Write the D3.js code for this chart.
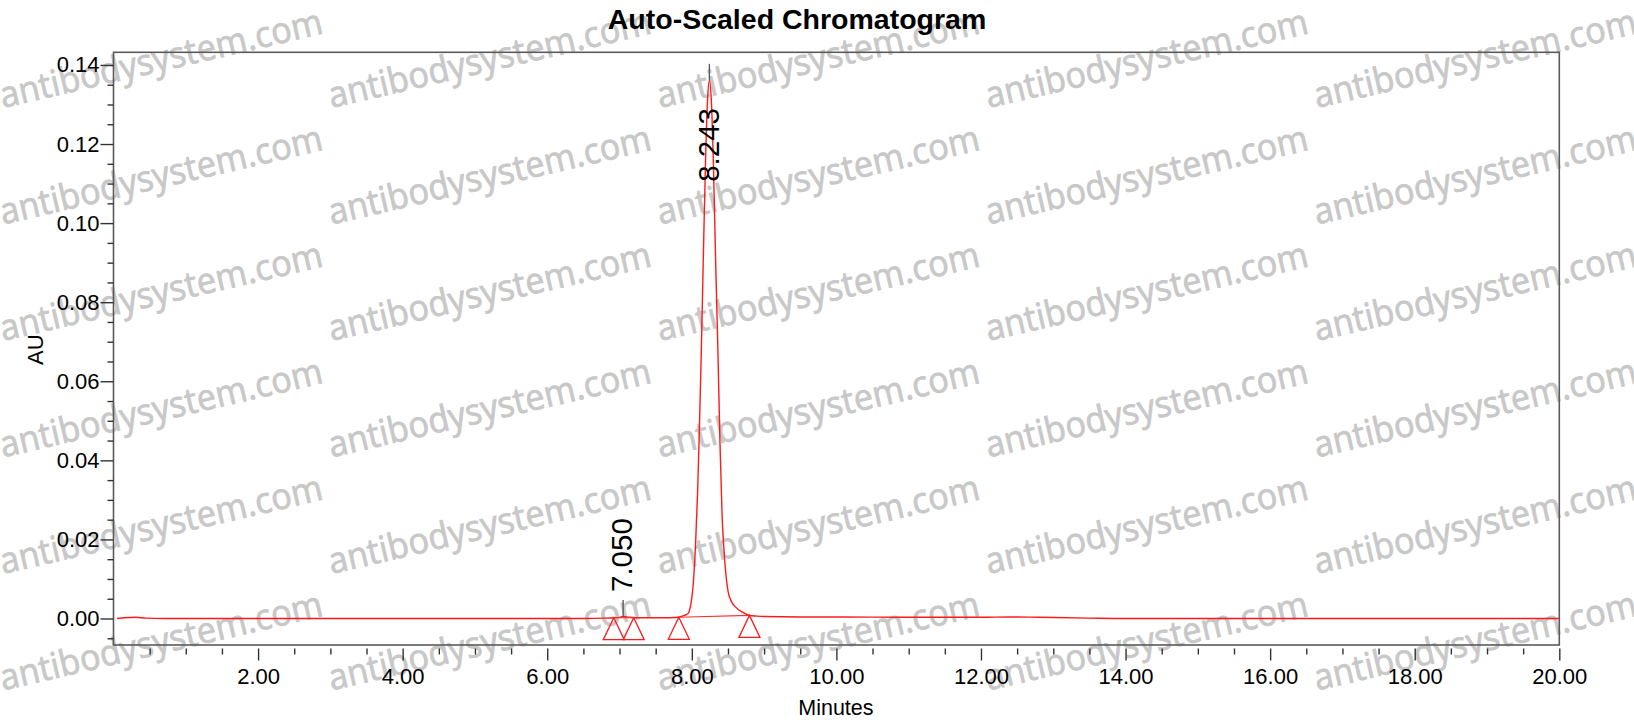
<!DOCTYPE html>
<html>
<head>
<meta charset="utf-8">
<script src="https://cdn.jsdelivr.net/npm/d3@7"></script>
<style>
  html, body { margin: 0; padding: 0; background: #fff; }
  svg { display: block; font-family: "Liberation Sans", Arial, sans-serif; }
</style>
</head>
<body>
<svg id="chart" width="1634" height="722"></svg>
<script>
// ---------- data ----------
const traceTime = [
  0.05, 0.15, 0.30, 0.45, 0.70, 1.00, 2.00, 3.00, 4.00, 5.00, 6.00, 6.50, 6.80, 6.92,
  7.00, 7.05, 7.10, 7.196, 7.30, 7.50, 7.70, 7.82, 7.85, 7.90, 7.95, 7.98,
  8.00, 8.02, 8.05, 8.08, 8.10, 8.13, 8.16, 8.19, 8.22, 8.243,
  8.27, 8.30, 8.33, 8.36, 8.39, 8.42, 8.45, 8.50, 8.55, 8.60, 8.70, 8.797,
  8.90, 9.00, 9.50, 10.00, 11.00, 12.00, 12.40, 12.80, 13.50, 14.00, 15.00,
  16.00, 17.00, 18.00, 19.00, 20.00
];
const traceAU = [
  0.0000, 0.0002, 0.0003, 0.0001, 0.0000, 0.0000, 0.0000, 0.0000, 0.0000, 0.0000, 0.0000, 0.0000, 0.0001, 0.0002,
  0.0003, 0.0005, 0.0004, 0.0002, 0.0002, 0.0002, 0.0002, 0.0003, 0.0005, 0.0008, 0.0013, 0.0030,
  0.0052, 0.0088, 0.0180, 0.0320, 0.0445, 0.0665, 0.0920, 0.1160, 0.1320, 0.1361,
  0.1310, 0.1140, 0.0900, 0.0685, 0.0440, 0.0255, 0.0160, 0.0070, 0.0042, 0.0030, 0.0016, 0.0008,
  0.0006, 0.0005, 0.0004, 0.0004, 0.0003, 0.0003, 0.0004, 0.0003, 0.0001, 0.0000, 0.0000,
  0.0000, 0.0000, 0.0000, 0.0000, 0.0000
];
const peakRT = [7.050, 8.243];
const peakApexAU = [0.0005, 0.1361];
const peakLabels = ["7.050", "8.243"];
const peakStartTime = [6.92, 7.82];
const peakStartAU = [0.0002, 0.0003];
const peakEndTime = [7.196, 8.797];
const peakEndAU = [0.0002, 0.0008];
const xMajorTicks = [2, 4, 6, 8, 10, 12, 14, 16, 18, 20];
const yMajorTicks = [0.00, 0.02, 0.04, 0.06, 0.08, 0.10, 0.12, 0.14];
const titleText = "Auto-Scaled Chromatogram";
const xAxisTitle = "Minutes";
const yAxisTitle = "AU";
const watermarkText = "antibodysystem.com";

(function draw() {
  // ---------- layout ----------
  const pL = 113.5, pR = 1559.3, pT = 52.3, pB = 645;
  const svg = d3.select("#chart");

  const x = d3.scaleLinear().domain([0, 20]).range([pL, pR]);
  const y = d3.scaleLinear().domain([-0.0067, 0.1432]).range([pB, pT]);

  // ---------- watermark (under everything) ----------
  const wm = svg.append("g").attr("class", "watermark");
  for (let c = 0; c < 5; c++) {
    for (let r = 0; r < 6; r++) {
      const wx = 3 + c * 328.5, wy = 108 + r * 116.5;
      wm.append("text")
        .attr("transform", `translate(${wx},${wy}) rotate(-13.1)`)
        .attr("font-family", "'Open Sans', 'Liberation Sans', sans-serif")
        .attr("font-size", 36)
        .attr("textLength", 330)
        .attr("lengthAdjust", "spacingAndGlyphs")
        .attr("fill", "#c8c8c8")
        .attr("stroke", "#c8c8c8")
        .attr("stroke-width", 0.8)
        .text(watermarkText);
    }
  }

  // ---------- frame ----------
  svg.append("rect")
    .attr("x", pL).attr("y", pT)
    .attr("width", pR - pL).attr("height", pB - pT)
    .attr("fill", "none").attr("stroke", "#5a5a5a").attr("stroke-width", 1.6);

  // ---------- y axis ticks ----------
  const yMinor = d3.range(-1, 29).map(k => k * 0.005).filter((v, i) => ((i - 1) % 4 + 4) % 4 !== 0);
  const yAxisMinor = d3.axisLeft(y).tickValues(yMinor).tickSize(6).tickFormat("");
  const yAxisMajor = d3.axisLeft(y).tickValues(yMajorTicks).tickSize(13).tickPadding(1)
    .tickFormat(d3.format(".2f"));
  const gy1 = svg.append("g").attr("transform", `translate(${pL},0)`).call(yAxisMinor);
  const gy2 = svg.append("g").attr("transform", `translate(${pL},0)`).call(yAxisMajor);
  [gy1, gy2].forEach(g => {
    g.select(".domain").remove();
    g.selectAll(".tick line").attr("stroke", "#333").attr("stroke-width", 1.4);
  });
  gy2.selectAll(".tick text")
    .attr("font-size", 22).attr("fill", "#000")
    .attr("font-family", "'Liberation Sans', Arial, sans-serif");

  // ---------- x axis ticks ----------
  const xMinor = d3.range(1, 40).map(k => k * 0.5).filter(v => v % 2 !== 0);
  const xAxisMinor = d3.axisBottom(x).tickValues(xMinor).tickSize(6).tickFormat("");
  const xAxisMajor = d3.axisBottom(x).tickValues(xMajorTicks).tickSize(12).tickPadding(8)
    .tickFormat(d3.format(".2f"));
  const gx1 = svg.append("g").attr("transform", `translate(0,${pB + 3.5})`).call(xAxisMinor);
  const gx2 = svg.append("g").attr("transform", `translate(0,${pB + 3.5})`).call(xAxisMajor);
  [gx1, gx2].forEach(g => {
    g.select(".domain").remove();
    g.selectAll(".tick line").attr("stroke", "#333").attr("stroke-width", 1.4);
  });
  gx2.selectAll(".tick text")
    .attr("font-size", 22).attr("fill", "#000")
    .attr("font-family", "'Liberation Sans', Arial, sans-serif");

  // ---------- titles ----------
  svg.append("text")
    .attr("x", 797).attr("y", 29)
    .attr("text-anchor", "middle")
    .attr("font-size", 28.5).attr("font-weight", "bold").attr("fill", "#000")
    .text(titleText);
  svg.append("text")
    .attr("x", (pL + pR) / 2 - 0.5).attr("y", 715)
    .attr("text-anchor", "middle")
    .attr("font-size", 21.5).attr("fill", "#000")
    .text(xAxisTitle);
  svg.append("text")
    .attr("transform", `translate(42.5,${(pT + pB) / 2 + 1}) rotate(-90)`)
    .attr("text-anchor", "middle")
    .attr("font-size", 22).attr("fill", "#000")
    .text(yAxisTitle);

  // ---------- trace ----------
  const traceData = traceTime.map((t, i) => [t, traceAU[i]]);
  const line = d3.line().x(d => x(d[0])).y(d => y(d[1])).curve(d3.curveMonotoneX);
  svg.append("path")
    .datum(traceData)
    .attr("d", line)
    .attr("fill", "none")
    .attr("stroke", "#ff1a1a")
    .attr("stroke-width", 1.4);

  // integration baselines
  peakStartTime.forEach((t, i) => {
    svg.append("line")
      .attr("x1", x(t)).attr("y1", y(peakStartAU[i]))
      .attr("x2", x(peakEndTime[i])).attr("y2", y(peakEndAU[i]))
      .attr("stroke", "#ff3030").attr("stroke-width", 1.1);
  });

  // triangle markers for peak start / end
  const markerT = peakStartTime.concat(peakEndTime);
  const markerV = peakStartAU.concat(peakEndAU);
  markerT.forEach((t, i) => {
    const px = x(t), py = y(markerV[i]);
    svg.append("path")
      .attr("d", `M${px},${py} L${px + 10.5},${py + 22} L${px - 10.5},${py + 22} Z`)
      .attr("fill", "none").attr("stroke", "#ff1a1a").attr("stroke-width", 1.3);
  });

  // ---------- peak labels ----------
  peakRT.forEach((t, i) => {
    const px = x(t), py = y(peakApexAU[i]);
    svg.append("line")
      .attr("x1", px).attr("x2", px)
      .attr("y1", py).attr("y2", py - 16.5)
      .attr("stroke", "#555").attr("stroke-width", 1.3);
    const textLen = 77;
    let textStart = py - 24.5;
    if (textStart - textLen < pT) textStart = pT + 52.5 + textLen;
    svg.append("text")
      .attr("transform", `translate(${px - 1.5},${textStart}) rotate(-90)`)
      .attr("dy", "0.36em")
      .attr("font-size", 29.5).attr("fill", "#000")
      .text(peakLabels[i]);
  });
})();
</script>
</body>
</html>
